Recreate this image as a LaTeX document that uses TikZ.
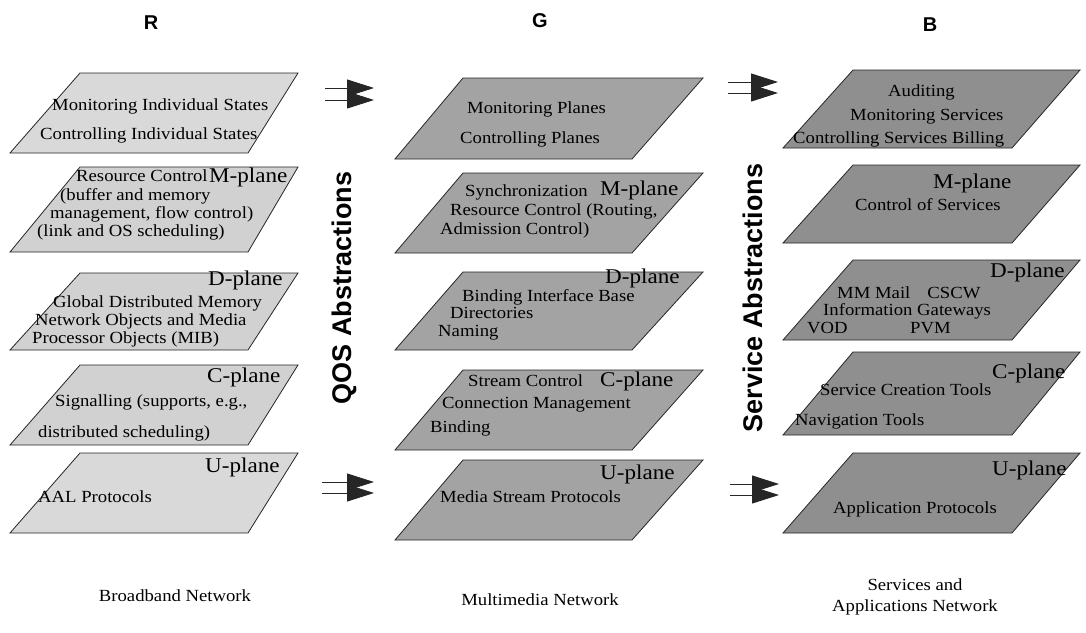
\documentclass[tikz,border=0pt]{standalone}
\usepackage{fontspec}
\setmainfont{Liberation Serif}[FakeStretch=1.1]
\setsansfont{Liberation Sans}
\usetikzlibrary{arrows.meta}

\definecolor{lfill}{gray}{0.82}
\definecolor{lfilltop}{gray}{0.85}
\definecolor{mfill}{gray}{0.64}
\definecolor{rfill}{gray}{0.56}

% one layer of a column: name, top y, bottom y (x positions fixed per column)
\newcommand{\lplane}[4][lfill]{%
  \draw[plane, fill=#1] (10,#4) -- (80,#3) -- (298,#3) -- (248,#4) -- cycle;
  \coordinate (#2) at (160,{(#3+#4)/2});}
\newcommand{\mplane}[4][mfill]{%
  \draw[plane, fill=#1] (395,#4) -- (463,#3) -- (703,#3) -- (632,#4) -- cycle;
  \coordinate (#2) at (550,{(#3+#4)/2});}
\newcommand{\rplane}[4][rfill]{%
  \draw[plane, fill=#1] (783,#4) -- (853,#3) -- (1080,#3) -- (1012,#4) -- cycle;
  \coordinate (#2) at (930,{(#3+#4)/2});}

\begin{document}
\begin{tikzpicture}[x=1pt, y=-1pt,
  plane/.style={draw=black!85, line width=0.8pt, line join=miter},
  txt/.style={inner sep=0, anchor=base west, font=\fontsize{17}{19}\selectfont},
  plab/.style={inner sep=0, anchor=base west, font=\fontsize{21}{22}\selectfont},
  head/.style={inner sep=0, anchor=base, font=\sffamily\bfseries\fontsize{20}{22}\selectfont},
  vlab/.style={inner sep=0, rotate=90, font=\sffamily\bfseries\fontsize{27}{28}\selectfont},
  foot/.style={inner sep=0, anchor=base, align=center, font=\fontsize{17}{21}\selectfont},
  flow/.style={line width=1pt, black!85, -{Triangle[length=27pt, width=17pt]}}]

\useasboundingbox (0,0) rectangle (1086,632);
\fill[white] (0,0) rectangle (1086,632);

% column headings
\node[head] (hR) at (151,29) {R};
\node[head] (hG) at (540,27) {G};
\node[head] (hB) at (930,31) {B};

% ---------------- broadband network (R) ----------------
\lplane[lfilltop]{l1}{73}{153}
\lplane{l2}{167}{252}
\lplane{l3}{273}{350}
\lplane{l4}{365}{445}
\lplane[lfilltop]{l5}{453}{533}

\node[txt] (l1a) at (52,110) {Monitoring Individual States};
\node[txt] (l1b) at (40,139) {Controlling Individual States};

\node[txt] (l2a) at (76,181) {Resource Control};
\node[plab] (l2p) at (209,182) {M-plane};
\node[txt] (l2b) at (60,200) {(buffer and memory};
\node[txt] (l2c) at (50,218) {management, flow control)};
\node[txt] (l2d) at (37,236) {(link and OS scheduling)};

\node[plab] (l3p) at (208,285) {D-plane};
\node[txt] (l3a) at (53,307) {Global Distributed Memory};
\node[txt] (l3b) at (35,325) {Network Objects and Media};
\node[txt] (l3c) at (32,343) {Processor Objects (MIB)};

\node[plab] (l4p) at (207,382) {C-plane};
\node[txt] (l4a) at (55,406) {Signalling (supports, e.g.,};
\node[txt] (l4b) at (38,437) {distributed scheduling)};

\node[plab] (l5p) at (205,472) {U-plane};
\node[txt] (l5a) at (38,502) {AAL Protocols};

% ---------------- multimedia network (G) ----------------
\mplane{m1}{78}{159}
\mplane{m2}{173}{253}
\mplane{m3}{272}{350}
\mplane{m4}{370}{450}
\mplane{m5}{460}{540}

\node[txt] (m1a) at (467,113) {Monitoring Planes};
\node[txt] (m1b) at (460,143) {Controlling Planes};

\node[txt] (m2a) at (465,196) {Synchronization};
\node[plab] (m2p) at (600,195) {M-plane};
\node[txt] (m2b) at (450,215) {Resource Control (Routing,};
\node[txt] (m2c) at (440,234) {Admission Control)};

\node[plab] (m3p) at (605,283) {D-plane};
\node[txt] (m3a) at (462,301) {Binding Interface Base};
\node[txt] (m3b) at (450,318) {Directories};
\node[txt] (m3c) at (438,336) {Naming};

\node[txt] (m4a) at (468,386) {Stream Control};
\node[plab] (m4p) at (600,386) {C-plane};
\node[txt] (m4b) at (442,408) {Connection Management};
\node[txt] (m4c) at (430,432) {Binding};

\node[plab] (m5p) at (600,479) {U-plane};
\node[txt] (m5a) at (440,502) {Media Stream Protocols};

% ---------------- services and applications network (B) ----------------
\rplane{r1}{70}{148}
\rplane{r2}{165}{243}
\rplane{r3}{260}{340}
\rplane{r4}{352}{435}
\rplane{r5}{453}{533}

\node[txt] (r1a) at (888,96) {Auditing};
\node[txt] (r1b) at (850,120) {Monitoring Services};
\node[txt] (r1c) at (793,143) {Controlling Services Billing};

\node[plab] (r2p) at (933,188) {M-plane};
\node[txt] (r2a) at (855,210) {Control of Services};

\node[plab] (r3p) at (990,277) {D-plane};
\node[txt] (r3a) at (837,298) {MM Mail\quad CSCW};
\node[txt] (r3b) at (823,315) {Information Gateways};
\node[txt] (r3c) at (807,333) {VOD};
\node[txt] (r3d) at (910,333) {PVM};

\node[plab] (r4p) at (992,378) {C-plane};
\node[txt] (r4a) at (820,395) {Service Creation Tools};
\node[txt] (r4b) at (795,425) {Navigation Tools};

\node[plab] (r5p) at (992,475) {U-plane};
\node[txt] (r5a) at (833,513) {Application Protocols};

% ---------------- abstractions between the networks ----------------
\node[vlab] (qos) at (344,288) {QOS Abstractions};
\node[vlab] (svc) at (753,298) {Service Abstractions};

\coordinate (qa1s) at (325,88);  \coordinate (qa1e) at (374,88);
\coordinate (qa2s) at (325,100); \coordinate (qa2e) at (374,100);
\coordinate (qb1s) at (322,482); \coordinate (qb1e) at (374,482);
\coordinate (qb2s) at (322,493); \coordinate (qb2e) at (374,493);
\coordinate (sa1s) at (728,82);  \coordinate (sa1e) at (778,82);
\coordinate (sa2s) at (728,93);  \coordinate (sa2e) at (778,93);
\coordinate (sb1s) at (730,484); \coordinate (sb1e) at (779,484);
\coordinate (sb2s) at (730,495); \coordinate (sb2e) at (779,495);

\foreach \s/\e in {qa1s/qa1e, qa2s/qa2e, qb1s/qb1e, qb2s/qb2e,
                   sa1s/sa1e, sa2s/sa2e, sb1s/sb1e, sb2s/sb2e}
  \draw[flow] (\s) -- (\e);

% network names
\node[foot] (nR) at (175,601) {Broadband Network};
\node[foot] (nG) at (540,605) {Multimedia Network};
\node[foot] (nB) at (915,611) {Services and\\Applications Network};

\end{tikzpicture}
\end{document}
